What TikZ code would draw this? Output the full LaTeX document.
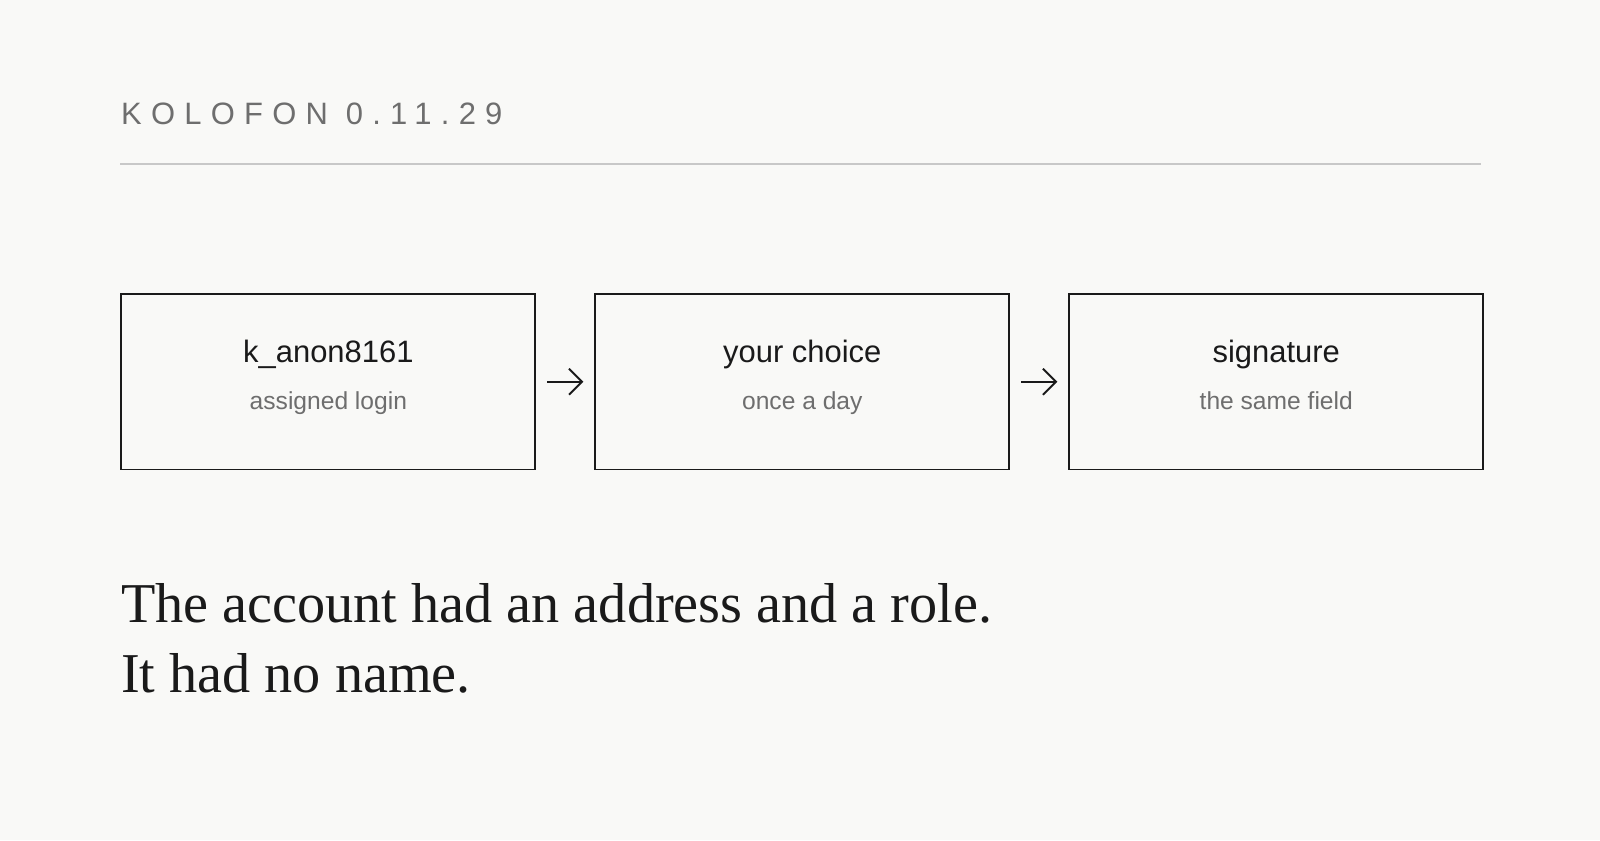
\documentclass[tikz,border=0pt]{standalone}
\usepackage{fontspec}
\setmainfont{Liberation Serif}
\setsansfont{Liberation Sans}
\newfontfamily\spacedfont[LetterSpace=30]{Liberation Sans}
\usetikzlibrary{positioning, arrows.meta}
\definecolor{paper}{HTML}{F9F9F7}
\definecolor{ink}{HTML}{1A1A1A}
\definecolor{muted}{HTML}{6E6E6E}
\definecolor{rule}{HTML}{C8C8C8}
\begin{document}
\begin{tikzpicture}[node distance=0.58cm, auto]

% Define styles
\tikzstyle{stage} = [rectangle, draw=ink, line width=0.55pt, minimum width=4.14cm,
    minimum height=1.755cm, inner sep=0pt]
\tikzstyle{head} = [anchor=base, inner sep=0pt, font=\fontsize{8.8pt}{10pt}\sffamily, text=ink]
\tikzstyle{sub} = [anchor=base, inner sep=0pt, font=\fontsize{7pt}{8pt}\sffamily, text=muted]
\tikzstyle{line} = [draw=ink, line width=0.55pt, -{Straight Barb[length=1.3mm, width=2.6mm]}]

% Canvas
\fill [paper] (0,0) rectangle (16,-8.4);
\useasboundingbox (0,0) rectangle (16,-8.4);

% Title and rule
\node [anchor=base west, inner sep=0pt, text=muted, font=\fontsize{8.8pt}{10pt}\spacedfont] (title) at (1.204,-1.245) {KOLOFON 0.11.29};
\draw [rule, line width=0.6pt] (1.204,-1.643) -- (14.81,-1.643);

% Place nodes
\node [stage, anchor=north west] (login) at (1.204,-2.93) {};
\node [stage, right=of login] (choice) {};
\node [stage, right=of choice] (sign) {};

\node [head] at ([yshift=0.19cm]login.center) {k\_anon8161};
\node [sub] at ([yshift=-0.28cm]login.center) {assigned login};
\node [head] at ([yshift=0.19cm]choice.center) {your choice};
\node [sub] at ([yshift=-0.28cm]choice.center) {once a day};
\node [head] at ([yshift=0.19cm]sign.center) {signature};
\node [sub] at ([yshift=-0.28cm]sign.center) {the same field};

% Draw edges
\path [line] ([xshift=0.11cm]login.east) -- ([xshift=-0.11cm]choice.west);
\path [line] ([xshift=0.11cm]choice.east) -- ([xshift=-0.11cm]sign.west);

% Closing text
\node [anchor=base west, inner sep=0pt, align=left, text=ink,
    font=\fontsize{16pt}{19.7pt}\selectfont] (quote) at (1.204,-6.92)
    {The account had an address and a role.\\It had no name.};

\end{tikzpicture}
\end{document}
